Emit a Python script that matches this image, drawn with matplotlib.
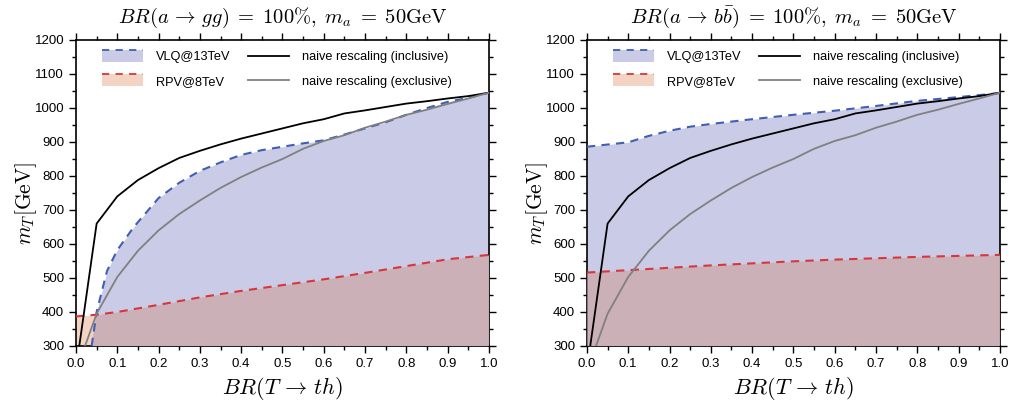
import numpy as np
import matplotlib
matplotlib.use("Agg")
import matplotlib.pyplot as plt
from matplotlib.patches import Rectangle
from matplotlib.lines import Line2D
from matplotlib.legend_handler import HandlerBase
from matplotlib.ticker import MultipleLocator

plt.rcParams['font.family'] = ['Liberation Sans', 'DejaVu Sans']
plt.rcParams['mathtext.fontset'] = 'cm'

# naive rescaling curves (same in both panels)
incl_x = [0.008, 0.05, 0.1, 0.15, 0.2, 0.25, 0.3, 0.35, 0.4, 0.45, 0.5, 0.55, 0.6, 0.65, 0.7, 0.75, 0.8, 0.85, 0.9, 0.95, 1.0]
incl_y = [300, 660, 740, 788, 823, 853, 874, 893, 910, 925, 940, 955, 967, 984, 993, 1003, 1013, 1020, 1028, 1035, 1045]
excl_x = [0.022, 0.05, 0.1, 0.15, 0.2, 0.25, 0.3, 0.35, 0.4, 0.45, 0.5, 0.55, 0.6, 0.65, 0.7, 0.75, 0.8, 0.85, 0.9, 0.95, 1.0]
excl_y = [300, 395, 503, 580, 640, 688, 728, 765, 797, 825, 850, 880, 903, 920, 942, 960, 980, 995, 1012, 1028, 1045]

# a -> gg panel
gg_vlq_x = [0.038, 0.05, 0.075, 0.1, 0.14, 0.2, 0.25, 0.3, 0.35, 0.4, 0.45, 0.5, 0.55, 0.6, 0.65, 0.7, 0.75, 0.8, 0.85, 0.9, 0.95, 1.0]
gg_vlq_y = [300, 400, 520, 582, 650, 735, 780, 815, 840, 862, 876, 886, 896, 905, 922, 940, 958, 980, 1000, 1018, 1030, 1045]
gg_rpv_x = [0.0, 0.05, 0.1, 0.2, 0.3, 0.4, 0.5, 0.6, 0.7, 0.8, 0.9, 1.0]
gg_rpv_y = [387, 392, 400, 421, 443, 462, 479, 496, 515, 535, 555, 568]

# a -> bb panel
bb_vlq_x = [0.0, 0.1, 0.15, 0.2, 0.25, 0.3, 0.4, 0.5, 0.6, 0.7, 0.8, 0.9, 1.0]
bb_vlq_y = [886, 899, 918, 933, 945, 953, 967, 980, 992, 1006, 1021, 1032, 1044]
bb_rpv_x = [0.0, 0.1, 0.2, 0.3, 0.4, 0.5, 0.6, 0.7, 0.8, 0.9, 1.0]
bb_rpv_y = [516, 523, 530, 537, 543, 549, 554, 558, 562, 565, 568]

titles = [r'$BR(a\,\to\,gg)\;=\;100\%,\; m_a\;=\;50\mathrm{GeV}$',
          r'$BR(a\,\to\,b\bar{b})\;=\;100\%,\; m_a\;=\;50\mathrm{GeV}$']

blue_fill = '#cacbe6'
blue_line = '#3f5fb3'
red_fill = '#f3d3c3'
red_line = '#d8363a'
overlap = '#cbb1b7'


class FillEdgeHandler(HandlerBase):
    def __init__(self, face, edge):
        super().__init__()
        self.face = face
        self.edge = edge

    def create_artists(self, legend, orig_handle, xdescent, ydescent, width, height, fontsize, trans):
        h = height * 1.3
        y0 = -ydescent + (height - h) / 2
        r = Rectangle((-xdescent, y0), width, h, facecolor=self.face, edgecolor='none', transform=trans)
        l = Line2D([-xdescent, -xdescent + width], [y0 + h, y0 + h], color=self.edge, lw=1.3,
                   dashes=(4, 3.5), transform=trans)
        return [r, l]


fig = plt.figure(figsize=(10.09, 4.04), dpi=100)
ax1 = fig.add_axes([0.0753, 0.1436, 0.4093, 0.7574])
ax2 = fig.add_axes([0.5817, 0.1436, 0.4093, 0.7574])

panels = [(ax1, gg_vlq_x, gg_vlq_y, gg_rpv_x, gg_rpv_y),
          (ax2, bb_vlq_x, bb_vlq_y, bb_rpv_x, bb_rpv_y)]

for i, (ax, vx, vy, rx, ry) in enumerate(panels):
    ax.fill_between(rx, 300, ry, color=red_fill, lw=0, zorder=1)
    bpoly = ax.fill_between(vx, 300, vy, color=blue_fill, lw=0, zorder=2)
    ov = ax.fill_between(rx, 300, ry, color=overlap, lw=0, zorder=3)
    ov.set_clip_path(bpoly.get_paths()[0], bpoly.get_transform())
    ax.plot(vx, vy, color=blue_line, lw=1.5, dashes=(4, 3), zorder=5)
    ax.plot(rx, ry, color=red_line, lw=1.5, dashes=(4, 3), zorder=5)
    ax.plot(incl_x, incl_y, color='black', lw=1.3, zorder=6)
    ax.plot(excl_x, excl_y, color='#808080', lw=1.3, zorder=6)

    ax.set_xlim(0, 1)
    ax.set_ylim(300, 1200)
    ax.xaxis.set_major_locator(MultipleLocator(0.1))
    ax.xaxis.set_minor_locator(MultipleLocator(0.05))
    ax.yaxis.set_major_locator(MultipleLocator(100))
    ax.yaxis.set_minor_locator(MultipleLocator(50))
    ax.xaxis.set_major_formatter(matplotlib.ticker.FormatStrFormatter('%.1f'))
    ax.tick_params(which='both', direction='out', top=True, right=True, labelsize=9.5, width=1)
    ax.tick_params(which='major', length=5)
    ax.tick_params(which='minor', length=3)
    for s in ax.spines.values():
        s.set_linewidth(1.2)
    ax.set_title(titles[i], fontsize=14.8, pad=12)
    ax.set_xlabel(r'$BR(T\,\to\,th)$', fontsize=16, labelpad=4)
    ax.set_ylabel(r'$m_T[\mathrm{GeV}]$', fontsize=15.5)
    ax.yaxis.set_label_coords(-0.09, 0.465)

    vlq_h = Rectangle((0, 0), 1, 1)
    rpv_h = Rectangle((0, 0), 1, 1)
    inc_h = Line2D([], [], color='black', lw=1.3)
    exc_h = Line2D([], [], color='#808080', lw=1.3)
    ax.legend([vlq_h, rpv_h, inc_h, exc_h],
              ['VLQ@13TeV', 'RPV@8TeV', 'naive rescaling (inclusive)', 'naive rescaling (exclusive)'],
              handler_map={vlq_h: FillEdgeHandler(blue_fill, blue_line),
                           rpv_h: FillEdgeHandler(red_fill, red_line)},
              ncol=2, frameon=False, loc='upper left', bbox_to_anchor=(0.035, 1.0),
              fontsize=9.2, handlelength=3.2, handletextpad=1.0, columnspacing=1.4,
              labelspacing=0.95)

fig.savefig('out.png', dpi=100)
